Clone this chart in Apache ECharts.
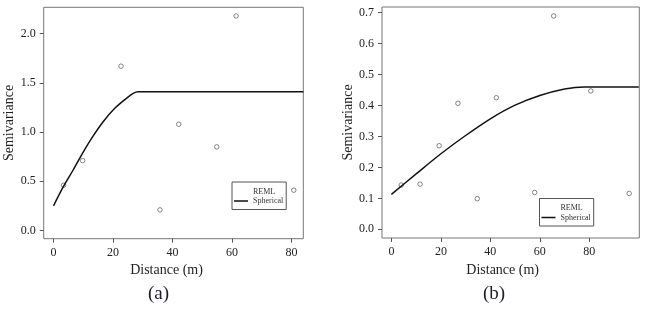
<!DOCTYPE html>
<html>
<head>
<meta charset="utf-8">
<script src="https://cdn.jsdelivr.net/npm/echarts@6/dist/echarts.min.js"></script>
<style>
  html, body { margin: 0; padding: 0; background: #fff; }
  #chart { width: 650px; height: 311px; }
</style>
</head>
<body>
<div id="chart"></div>
<script>
// Panel (a) - empirical semivariance points and fitted spherical model
const distA = [3.4, 9.8, 22.7, 35.8, 42.1, 54.9, 61.4, 80.8];
const semiA = [0.46, 0.71, 1.67, 0.21, 1.08, 0.85, 2.18, 0.41];
const fitDistA = [0, 3.3, 6.6, 9.4, 12.8, 16.7, 20.6, 24.5, 26.8, 28.5, 84];
const fitSemiA = [0.25, 0.445, 0.615, 0.767, 0.937, 1.106, 1.242, 1.343, 1.394, 1.41, 1.41];

// Panel (b)
const distB = [4.0, 11.6, 19.3, 26.9, 34.7, 42.4, 57.9, 65.6, 80.6, 96.1];
const semiB = [0.143, 0.146, 0.27, 0.407, 0.099, 0.425, 0.119, 0.689, 0.447, 0.116];
const fitDistB = [0, 10, 20, 30, 40, 50, 60, 70, 78, 100];
const fitSemiB = [0.113, 0.179, 0.244, 0.303, 0.357, 0.401, 0.432, 0.453, 0.46, 0.46];

// Tick labels
const xTicks = [0, 20, 40, 60, 80];
const yTicksA = [0, 0.5, 1.0, 1.5, 2.0];
const yTicksB = [0, 0.1, 0.2, 0.3, 0.4, 0.5, 0.6, 0.7];

const FONT = 'Liberation Serif';
const chart = echarts.init(document.getElementById('chart'));

const zip = (xs, ys) => xs.map((x, i) => [x, ys[i]]);

const xAxisFor = (gridIndex, min, max, padRight) => ({
  type: 'value',
  gridIndex,
  min,
  max,
  name: 'Distance (m)',
  nameLocation: 'middle',
  nameGap: 23,
  nameTextStyle: { fontFamily: FONT, fontSize: 14, color: '#222', padding: [0, padRight, 0, 0] },
  splitLine: { show: false },
  axisLine: { show: false, onZero: false },
  axisTick: { show: true, length: 4, lineStyle: { color: '#555' }, customValues: xTicks },
  axisLabel: { fontFamily: FONT, fontSize: 12, color: '#222', margin: 8, customValues: xTicks }
});

const yAxisFor = (gridIndex, min, max, ticks) => ({
  type: 'value',
  gridIndex,
  min,
  max,
  name: 'Semivariance',
  nameLocation: 'middle',
  nameGap: 27,
  nameTextStyle: { fontFamily: FONT, fontSize: 14, color: '#222' },
  splitLine: { show: false },
  axisLine: { show: false, onZero: false },
  axisTick: { show: true, length: 4, lineStyle: { color: '#555' }, customValues: ticks },
  axisLabel: {
    fontFamily: FONT, fontSize: 12, color: '#222', margin: 8,
    customValues: ticks,
    formatter: v => v.toFixed(1)
  }
});

const pointSeries = (idx, data) => ({
  name: 'REML',
  type: 'scatter',
  xAxisIndex: idx,
  yAxisIndex: idx,
  symbol: 'circle',
  symbolSize: 4.5,
  itemStyle: { color: '#fff', borderColor: '#666', borderWidth: 1 },
  data
});

const fitSeries = (idx, data) => ({
  name: 'Spherical',
  type: 'line',
  xAxisIndex: idx,
  yAxisIndex: idx,
  symbol: 'none',
  smooth: 0.3,
  clip: true,
  lineStyle: { color: '#111', width: 1.5 },
  itemStyle: { color: '#111' },
  data
});

const legendFor = (left, top) => ({
  left,
  top,
  orient: 'vertical',
  backgroundColor: '#fff',
  borderColor: '#555',
  borderWidth: 1,
  borderRadius: 0,
  padding: [5, 3, 4, 2],
  itemWidth: 14,
  itemHeight: 1.5,
  itemGap: 0.5,
  selectedMode: false,
  textStyle: { fontFamily: FONT, fontSize: 8, color: '#333', lineHeight: 9 },
  data: [{ name: 'REML', icon: 'none' }, { name: 'Spherical', icon: 'rect' }]
});

const option = {
  animation: false,
  backgroundColor: '#fff',
  grid: [
    { left: 43.7, top: 7.3, width: 259.6, height: 231.4, show: true, borderColor: '#777', borderWidth: 1, backgroundColor: 'transparent' },
    { left: 382, top: 7, width: 257.3, height: 231, show: true, borderColor: '#777', borderWidth: 1, backgroundColor: 'transparent' }
  ],
  xAxis: [
    xAxisFor(0, -3.3, 84, 14),
    xAxisFor(1, -3.8, 100.2, 16)
  ],
  yAxis: [
    yAxisFor(0, -0.083, 2.268, yTicksA),
    yAxisFor(1, -0.028, 0.718, yTicksB)
  ],
  legend: [legendFor(232, 182), legendFor(539.5, 198.5)],
  graphic: [
    { type: 'text', left: 148, top: 285, style: { text: '(a)', font: '19px "Liberation Serif"', fill: '#1c1c2a' } },
    { type: 'text', left: 483, top: 285, style: { text: '(b)', font: '19px "Liberation Serif"', fill: '#1c1c2a' } }
  ],
  series: [
    fitSeries(0, zip(fitDistA, fitSemiA)),
    pointSeries(0, zip(distA, semiA)),
    fitSeries(1, zip(fitDistB, fitSemiB)),
    pointSeries(1, zip(distB, semiB))
  ]
};

chart.setOption(option);
</script>
</body>
</html>
